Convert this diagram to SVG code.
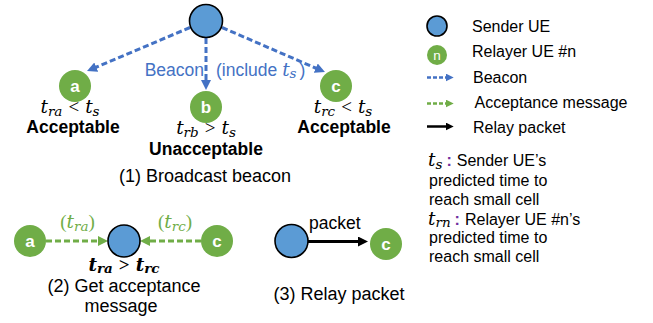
<svg xmlns="http://www.w3.org/2000/svg" width="653" height="323" viewBox="0 0 653 323">
  <style>
    .t { font-family: "Liberation Sans", Arial, sans-serif; fill: #000; }
    .blue { fill: #4472C4; }
    .green { fill: #70AD47; }
    .purple { fill: #7030A0; font-family: "Liberation Sans", Arial, sans-serif; font-weight: bold; }
    .cap { font-size: 18px; }
    .b { font-size: 17.5px; font-weight: bold; }
    .leg { font-size: 16px; }
    .mi { font-family: "DejaVu Serif", "Liberation Serif", serif; font-style: italic; font-size: 18.5px; }
    .sub { font-family: "DejaVu Serif", "Liberation Serif", serif; font-style: italic; font-size: 13.5px; }
    .op { font-family: "Liberation Serif", serif; font-size: 19px; }
    .bm { font-weight: bold; }
    .sender { fill: #5B9BD5; stroke: #000; stroke-width: 1.6; }
    .relay { fill: #70AD47; }
    .letter { font-family: "Liberation Sans", Arial, sans-serif; font-weight: bold; font-size: 17px; fill: #fff; text-anchor: middle; }
    .beacon { stroke: #4472C4; stroke-width: 3; stroke-dasharray: 6 3; fill: none; }
    .accept { stroke: #70AD47; stroke-width: 3; stroke-dasharray: 6 3; fill: none; }
    .packet { stroke: #000; stroke-width: 3; fill: none; }
    .beacon-s { stroke: #4472C4; stroke-width: 2.5; stroke-dasharray: 4 2; fill: none; }
    .accept-s { stroke: #70AD47; stroke-width: 2.5; stroke-dasharray: 4 2; fill: none; }
    .packet-s { stroke: #000; stroke-width: 2.5; fill: none; }
  </style>
  <defs>
    <marker id="hBlue" viewBox="0 0 10 10" refX="1" refY="5" markerWidth="10" markerHeight="10" markerUnits="userSpaceOnUse" orient="auto">
      <path d="M0,0 L10,5 L0,10 z" fill="#4472C4"/>
    </marker>
    <marker id="hGreen" viewBox="0 0 10 10" refX="1" refY="5" markerWidth="10" markerHeight="10" markerUnits="userSpaceOnUse" orient="auto">
      <path d="M0,0 L10,5 L0,10 z" fill="#70AD47"/>
    </marker>
    <marker id="hBlack" viewBox="0 0 10 10" refX="1" refY="5" markerWidth="10" markerHeight="10" markerUnits="userSpaceOnUse" orient="auto">
      <path d="M0,0 L10,5 L0,10 z" fill="#000"/>
    </marker>
    <marker id="hBlueS" viewBox="0 0 10 10" refX="1" refY="5" markerWidth="8" markerHeight="8" markerUnits="userSpaceOnUse" orient="auto">
      <path d="M0,0 L10,5 L0,10 z" fill="#4472C4"/>
    </marker>
    <marker id="hGreenS" viewBox="0 0 10 10" refX="1" refY="5" markerWidth="8" markerHeight="8" markerUnits="userSpaceOnUse" orient="auto">
      <path d="M0,0 L10,5 L0,10 z" fill="#70AD47"/>
    </marker>
    <marker id="hBlackS" viewBox="0 0 10 10" refX="1" refY="5" markerWidth="8" markerHeight="8" markerUnits="userSpaceOnUse" orient="auto">
      <path d="M0,0 L10,5 L0,10 z" fill="#000"/>
    </marker>
  </defs>

  <!-- connectors -->
  <g id="connectors">
    <!-- (1) beacon broadcast -->
    <line class="beacon" x1="190" y1="27.5" x2="95.3" y2="67.5" marker-end="url(#hBlue)"/>
    <line class="beacon" x1="206" y1="38" x2="206" y2="81" marker-end="url(#hBlue)"/>
    <line class="beacon" x1="222" y1="27.5" x2="316.7" y2="68.5" marker-end="url(#hBlue)"/>
    <!-- (2) acceptance messages -->
    <line class="accept" x1="46" y1="241" x2="99" y2="241" marker-end="url(#hGreen)"/>
    <line class="accept" x1="201" y1="241" x2="149" y2="241" marker-end="url(#hGreen)"/>
    <!-- (3) relay packet -->
    <line class="packet" x1="308" y1="241.5" x2="359" y2="241.5" marker-end="url(#hBlack)"/>
    <!-- legend samples -->
    <line class="beacon-s" x1="427" y1="77.5" x2="446.5" y2="77.5" marker-end="url(#hBlueS)"/>
    <line class="accept-s" x1="427" y1="103.5" x2="446.5" y2="103.5" marker-end="url(#hGreenS)"/>
    <line class="packet-s" x1="427" y1="126.5" x2="446.5" y2="126.5" marker-end="url(#hBlackS)"/>
  </g>

  <!-- (1) broadcast beacon -->
  <g id="sender1">
    <circle class="sender" cx="206" cy="21" r="16.5"/>
  </g>
  <g id="relayA1">
    <circle class="relay" cx="75" cy="86" r="16"/>
    <text class="letter" x="75" y="92">a</text>
    <text class="t" x="70" y="113" text-anchor="middle"><tspan class="mi">t</tspan><tspan class="sub" dy="2.5">ra</tspan><tspan class="op" dy="-2.5" dx="6">&lt;</tspan><tspan class="mi" dx="6">t</tspan><tspan class="sub" dy="2.5">s</tspan></text>
    <text class="t b" x="73" y="133" text-anchor="middle">Acceptable</text>
  </g>
  <g id="relayB1">
    <circle class="relay" cx="206" cy="107" r="16"/>
    <text class="letter" x="206" y="113">b</text>
    <text class="t" x="206" y="134" text-anchor="middle"><tspan class="mi">t</tspan><tspan class="sub" dy="2.5">rb</tspan><tspan class="op" dy="-2.5" dx="6">&gt;</tspan><tspan class="mi" dx="6">t</tspan><tspan class="sub" dy="2.5">s</tspan></text>
    <text class="t b" x="206" y="155" text-anchor="middle">Unacceptable</text>
  </g>
  <g id="relayC1">
    <circle class="relay" cx="336" cy="86" r="16"/>
    <text class="letter" x="336" y="92">c</text>
    <text class="t" x="343" y="113" text-anchor="middle"><tspan class="mi">t</tspan><tspan class="sub" dy="2.5">rc</tspan><tspan class="op" dy="-2.5" dx="6">&lt;</tspan><tspan class="mi" dx="6">t</tspan><tspan class="sub" dy="2.5">s</tspan></text>
    <text class="t b" x="344" y="133" text-anchor="middle">Acceptable</text>
  </g>
  <g id="beaconLabel">
    <text class="t blue" x="204" y="75.5" text-anchor="end" font-size="17.5">Beacon</text>
    <text class="t blue" x="216" y="75.5" font-size="17.5">(include <tspan class="mi blue">t</tspan><tspan class="sub blue" dy="2.5">s</tspan><tspan dy="-2.5" dx="3">)</tspan></text>
  </g>
  <text class="t cap" x="205" y="182" text-anchor="middle">(1) Broadcast beacon</text>

  <!-- (2) get acceptance message -->
  <g id="relayA2">
    <circle class="relay" cx="30" cy="241" r="16"/>
    <text class="letter" x="30" y="247">a</text>
  </g>
  <g id="sender2">
    <circle class="sender" cx="124" cy="241" r="16"/>
  </g>
  <g id="relayC2">
    <circle class="relay" cx="217" cy="241" r="16"/>
    <text class="letter" x="217" y="247">c</text>
  </g>
  <text class="t green" x="77.5" y="228" text-anchor="middle"><tspan class="op green">(</tspan><tspan class="mi green">t</tspan><tspan class="sub green" dy="2.5">ra</tspan><tspan class="op green" dy="-2.5">)</tspan></text>
  <text class="t green" x="175" y="228" text-anchor="middle"><tspan class="op green">(</tspan><tspan class="mi green">t</tspan><tspan class="sub green" dy="2.5">rc</tspan><tspan class="op green" dy="-2.5">)</tspan></text>
  <text class="t" x="124" y="270.5" text-anchor="middle"><tspan class="mi bm">t</tspan><tspan class="sub bm" dy="2">ra</tspan><tspan class="op bm" dy="-2" dx="6">&gt;</tspan><tspan class="mi bm" dx="6">t</tspan><tspan class="sub bm" dy="2">rc</tspan></text>
  <text class="t cap" x="124" y="292" text-anchor="middle">(2) Get acceptance</text>
  <text class="t cap" x="121" y="312" text-anchor="middle">message</text>

  <!-- (3) relay packet -->
  <g id="sender3">
    <circle class="sender" cx="291.5" cy="241" r="16.5"/>
  </g>
  <g id="relayC3">
    <circle class="relay" cx="386" cy="244" r="16"/>
    <text class="letter" x="386" y="250">c</text>
  </g>
  <text class="t" x="309" y="228.5" font-size="17.5">packet</text>
  <text class="t cap" x="339" y="300" text-anchor="middle">(3) Relay packet</text>

  <!-- legend -->
  <g id="legend">
    <circle class="sender" cx="437" cy="26" r="10"/>
    <text class="t leg" x="472" y="31.7">Sender UE</text>
    <circle class="relay" cx="437" cy="55" r="10"/>
    <text x="437" y="60" font-family="Liberation Sans, Arial, sans-serif" font-size="13.5" fill="#fff" text-anchor="middle">n</text>
    <text class="t leg" x="472" y="57">Relayer UE #n</text>
    <text class="t leg" x="473" y="83.3">Beacon</text>
    <text class="t leg" x="474.5" y="108.3">Acceptance message</text>
    <text class="t leg" x="473" y="132.7">Relay packet</text>
  </g>

  <!-- symbol definitions -->
  <g id="notes">
    <text class="t leg" x="428" y="166"><tspan class="mi">t</tspan><tspan class="sub" dy="2.5">s</tspan><tspan class="purple" dy="-2.5" dx="4">:</tspan><tspan dx="5">Sender UE’s</tspan></text>
    <text class="t leg" x="429" y="186">predicted time to</text>
    <text class="t leg" x="429" y="205">reach small cell</text>
    <text class="t leg" x="428" y="224.5"><tspan class="mi">t</tspan><tspan class="sub" dy="2.5">rn</tspan><tspan class="purple" dy="-2.5" dx="4">:</tspan><tspan dx="5">Relayer UE #n’s</tspan></text>
    <text class="t leg" x="429" y="243">predicted time to</text>
    <text class="t leg" x="429" y="262">reach small cell</text>
  </g>
</svg>
